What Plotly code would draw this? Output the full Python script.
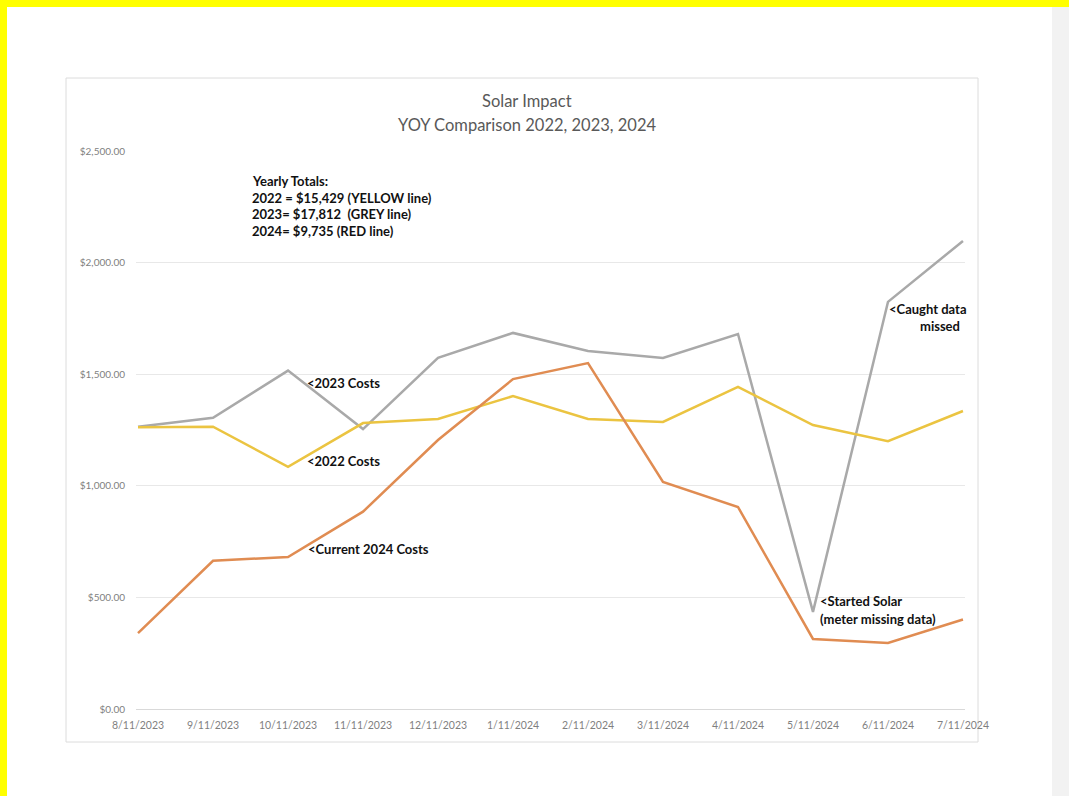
import plotly.graph_objects as go

# ---- data ----
months = ["8/11/2023", "9/11/2023", "10/11/2023", "11/11/2023", "12/11/2023", "1/11/2024",
          "2/11/2024", "3/11/2024", "4/11/2024", "5/11/2024", "6/11/2024", "7/11/2024"]
costs_2022 = [1262, 1265, 1085, 1281, 1299, 1402, 1299, 1286, 1443, 1272, 1200, 1335]
costs_2023 = [1265, 1305, 1516, 1254, 1573, 1685, 1604, 1573, 1680, 435, 1824, 2097]
costs_2024 = [340, 664, 681, 884, 1205, 1478, 1550, 1017, 905, 314, 296, 401]
y_ticks = [0, 500, 1000, 1500, 2000, 2500]
y_tick_text = ["$0.00", "$500.00", "$1,000.00", "$1,500.00", "$2,000.00", "$2,500.00"]

# ---- layout geometry (pixels) ----
W, H = 1069, 796
ML, MR, MT, MB = 136, 104, 151, 87
PW, PH = W - ML - MR, H - MT - MB


def xp(px):
    return (px - ML) / PW


def yp(py):
    return (H - MB - py) / PH


FONT = "Lato"
fig = go.Figure()

fig.add_trace(go.Scatter(x=list(range(len(months))), y=costs_2023, mode="lines",
                         line=dict(color="#a9a9a9", width=2.5), name="2023"))
fig.add_trace(go.Scatter(x=list(range(len(months))), y=costs_2022, mode="lines",
                         line=dict(color="#ebc441", width=2.5), name="2022"))
fig.add_trace(go.Scatter(x=list(range(len(months))), y=costs_2024, mode="lines",
                         line=dict(color="#e08c52", width=2.5), name="2024"))

shapes = [
    # chart frame
    dict(type="rect", xref="paper", yref="paper", x0=xp(66), x1=xp(978), y0=yp(742), y1=yp(78),
         line=dict(color="#dcdcdc", width=1), fillcolor="rgba(0,0,0,0)", layer="below"),
    # right grey band
    dict(type="rect", xref="paper", yref="paper", x0=xp(1052), x1=xp(1069), y0=yp(796), y1=yp(0),
         line=dict(width=0), fillcolor="#f2f2f2", layer="below"),
    # yellow frame top and left
    dict(type="rect", xref="paper", yref="paper", x0=xp(0), x1=xp(1069), y0=yp(7), y1=yp(0),
         line=dict(width=0), fillcolor="#ffff00", layer="above"),
    dict(type="rect", xref="paper", yref="paper", x0=xp(0), x1=xp(7), y0=yp(796), y1=yp(0),
         line=dict(width=0), fillcolor="#ffff00", layer="above"),
]

annotations = []


def note(text, x, y, size=13, color="#111111", anchor="left", bold=True):
    t = f"<b>{text}</b>" if bold else text
    annotations.append(dict(text=t, xref="paper", yref="paper", x=xp(x), y=yp(y),
                            xanchor=anchor, yanchor="middle", showarrow=False,
                            font=dict(family=FONT, size=size, color=color)))


# titles
note("Solar Impact", 527, 101, size=16.5, color="#595959", anchor="center", bold=False)
note("YOY Comparison 2022, 2023, 2024", 527, 125, size=16.5, color="#595959", anchor="center", bold=False)

# totals box
note("Yearly Totals:", 250, 181)
note("2022 = $15,429 (YELLOW line)", 250, 198)
note("2023= $17,812  (GREY line)", 250, 214)
note("2024= $9,735 (RED line)", 250, 231)

# series notes
note("&lt;2023 Costs", 305, 383)
note("&lt;2022 Costs", 305, 461)
note("&lt;Current 2024 Costs", 306, 549)
note("&lt;Caught data", 887, 309)
note("missed", 940, 326, anchor="center")
note("&lt;Started Solar", 818, 601)
note("(meter missing data)", 818, 619)

fig.update_layout(
    width=W, height=H,
    margin=dict(l=ML, r=MR, t=MT, b=MB, pad=0),
    paper_bgcolor="white", plot_bgcolor="white",
    showlegend=False,
    shapes=shapes, annotations=annotations,
    xaxis=dict(
        tickmode="array", tickvals=list(range(len(months))), ticktext=months,
        range=[-0.027, 11.027], showgrid=False, zeroline=False,
        showline=True, linecolor="#d9d9d9", linewidth=1,
        ticks="", tickfont=dict(family=FONT, size=10.5, color="#7f7f7f"),
        ticklabelstandoff=6,
    ),
    yaxis=dict(
        tickmode="array", tickvals=y_ticks, ticktext=y_tick_text,
        range=[0, 2500], showgrid=True, gridcolor="#e8e8e8", gridwidth=1,
        zeroline=False, showline=False, ticks="",
        tickfont=dict(family=FONT, size=10, color="#7f7f7f"),
        ticklabelstandoff=10,
    ),
)

fig.write_html(
    "out.html",
    config={"displayModeBar": False},
    post_script="document.body.style.margin='0';document.body.style.overflow='hidden';",
)
